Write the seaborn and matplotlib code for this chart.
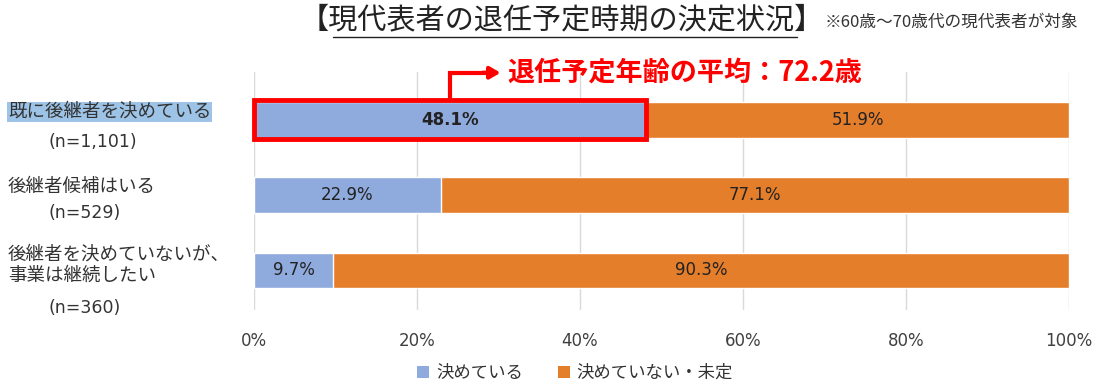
import matplotlib
matplotlib.use("Agg")
import matplotlib.pyplot as plt
from matplotlib.patches import Patch, Rectangle
import seaborn as sns
import pandas as pd

categories = ["既に後継者を決めている", "後継者候補はいる", "後継者を決めていないが、\n事業は継続したい"]
sample_sizes = ["(n=1,101)", "(n=529)", "(n=360)"]
decided = [48.1, 22.9, 9.7]
undecided = [51.9, 77.1, 90.3]
series_names = ["決めている", "決めていない・未定"]
x_ticks = [0, 20, 40, 60, 80, 100]

blue = "#8FAADC"
orange = "#E57E2A"
red = "#FF0000"

sns.set_style("white")
plt.rcParams["font.family"] = ["DejaVu Sans", "Noto Sans CJK JP"]
cjk = ["Noto Sans CJK JP", "DejaVu Sans"]

df = pd.DataFrame({"cat": categories, "decided": decided,
                   "total": [a + b for a, b in zip(decided, undecided)]})

W, H = 1106, 387
fig = plt.figure(figsize=(W / 100, H / 100), dpi=100)
ax = fig.add_axes([254 / W, 1 - 310 / H, 815 / W, (310 - 72) / H])

bar_h = 0.47
sns.barplot(data=df, y="cat", x="total", color=orange, width=bar_h, ax=ax,
            orient="h", saturation=1, zorder=2)
sns.barplot(data=df, y="cat", x="decided", color=blue, width=bar_h, ax=ax,
            orient="h", saturation=1, zorder=3)

ax.set_xlim(0, 100)
ax.set_ylim(2.53, -0.64)
ax.set_xticks(x_ticks)
ax.set_xticklabels([f"{t}%" for t in x_ticks], fontsize=12, color="#404040")
ax.tick_params(axis="x", length=0, pad=16)
ax.set_yticks([])
ax.set_xlabel("")
ax.set_ylabel("")
for s in ax.spines.values():
    s.set_visible(False)
ax.grid(axis="x", color="#D9D9D9", linewidth=1, zorder=0)
ax.set_axisbelow(True)

# value labels
for i, (d, u) in enumerate(zip(decided, undecided)):
    ax.text(d / 2, i, f"{d}%", ha="center", va="center", fontsize=12,
            color="#222222", fontweight="bold" if i == 0 else "normal", zorder=5)
    ax.text(d + u / 2, i, f"{u}%", ha="center", va="center", fontsize=12,
            color="#222222", zorder=5)

# red highlight box on first bar
ax.add_patch(Rectangle((0, -0.265), decided[0], 0.52, fill=False,
                       edgecolor=red, linewidth=3.5, zorder=6, clip_on=False))
mid = decided[0] / 2
ax.plot([mid, mid, mid + 4.5], [-0.27, -0.63, -0.63], color=red, linewidth=3,
        clip_on=False, zorder=6, solid_joinstyle="miter")
ax.annotate("", xy=(mid + 6.2, -0.63), xytext=(mid + 4.0, -0.63),
            arrowprops=dict(arrowstyle="-|>,head_length=0.6,head_width=0.35",
                            color=red, lw=3, shrinkA=0, shrinkB=0),
            annotation_clip=False, zorder=6)
ax.text(mid + 7.0, -0.63, "退任予定年齢の平均：72.2歳", color=red, fontsize=19.5,
        fontweight="bold", va="center", ha="left", clip_on=False, family=cjk)

# left category labels
label_y = [[112], [187], [255, 276]]
n_y = [142, 213, 308]
fig.text(8 / W, 1 - 112 / H, categories[0], fontsize=13.3, va="center", ha="left",
         color="#333333", family=cjk,
         bbox=dict(facecolor="#9DC3E6", edgecolor="none", pad=0.5))
fig.text(8 / W, 1 - 187 / H, categories[1], fontsize=13.3, va="center", ha="left",
         color="#333333", family=cjk)
for line, yy in zip(categories[2].split("\n"), label_y[2]):
    fig.text(8 / W, 1 - yy / H, line, fontsize=13.3, va="center", ha="left",
             color="#333333", family=cjk)
for n, yy in zip(sample_sizes, n_y):
    fig.text(48 / W, 1 - yy / H, n, fontsize=12.5, va="center", ha="left",
             color="#333333")

# title and note
fig.text(562 / W, 1 - 20 / H, "【現代表者の退任予定時期の決定状況】", fontsize=21,
         ha="center", va="center", color="#222222", family=cjk)
fig.add_artist(plt.Line2D([333 / W, 797 / W], [1 - 37 / H, 1 - 37 / H],
                          color="#222222", linewidth=1))
fig.text(825 / W, 1 - 22 / H, "※60歳～70歳代の現代表者が対象", fontsize=12,
         ha="left", va="center", color="#333333", family=cjk)

handles = [Patch(facecolor=blue, edgecolor="none"),
           Patch(facecolor=orange, edgecolor="none")]
leg = fig.legend(handles, series_names, loc="center", ncol=2, frameon=False,
                 bbox_to_anchor=(575 / W, 14 / H), handlelength=0.7,
                 handleheight=0.7, handletextpad=0.4, columnspacing=2.0,
                 labelcolor="#333333", prop={"family": cjk, "size": 12.5})

fig.savefig("out.png", dpi=100)
